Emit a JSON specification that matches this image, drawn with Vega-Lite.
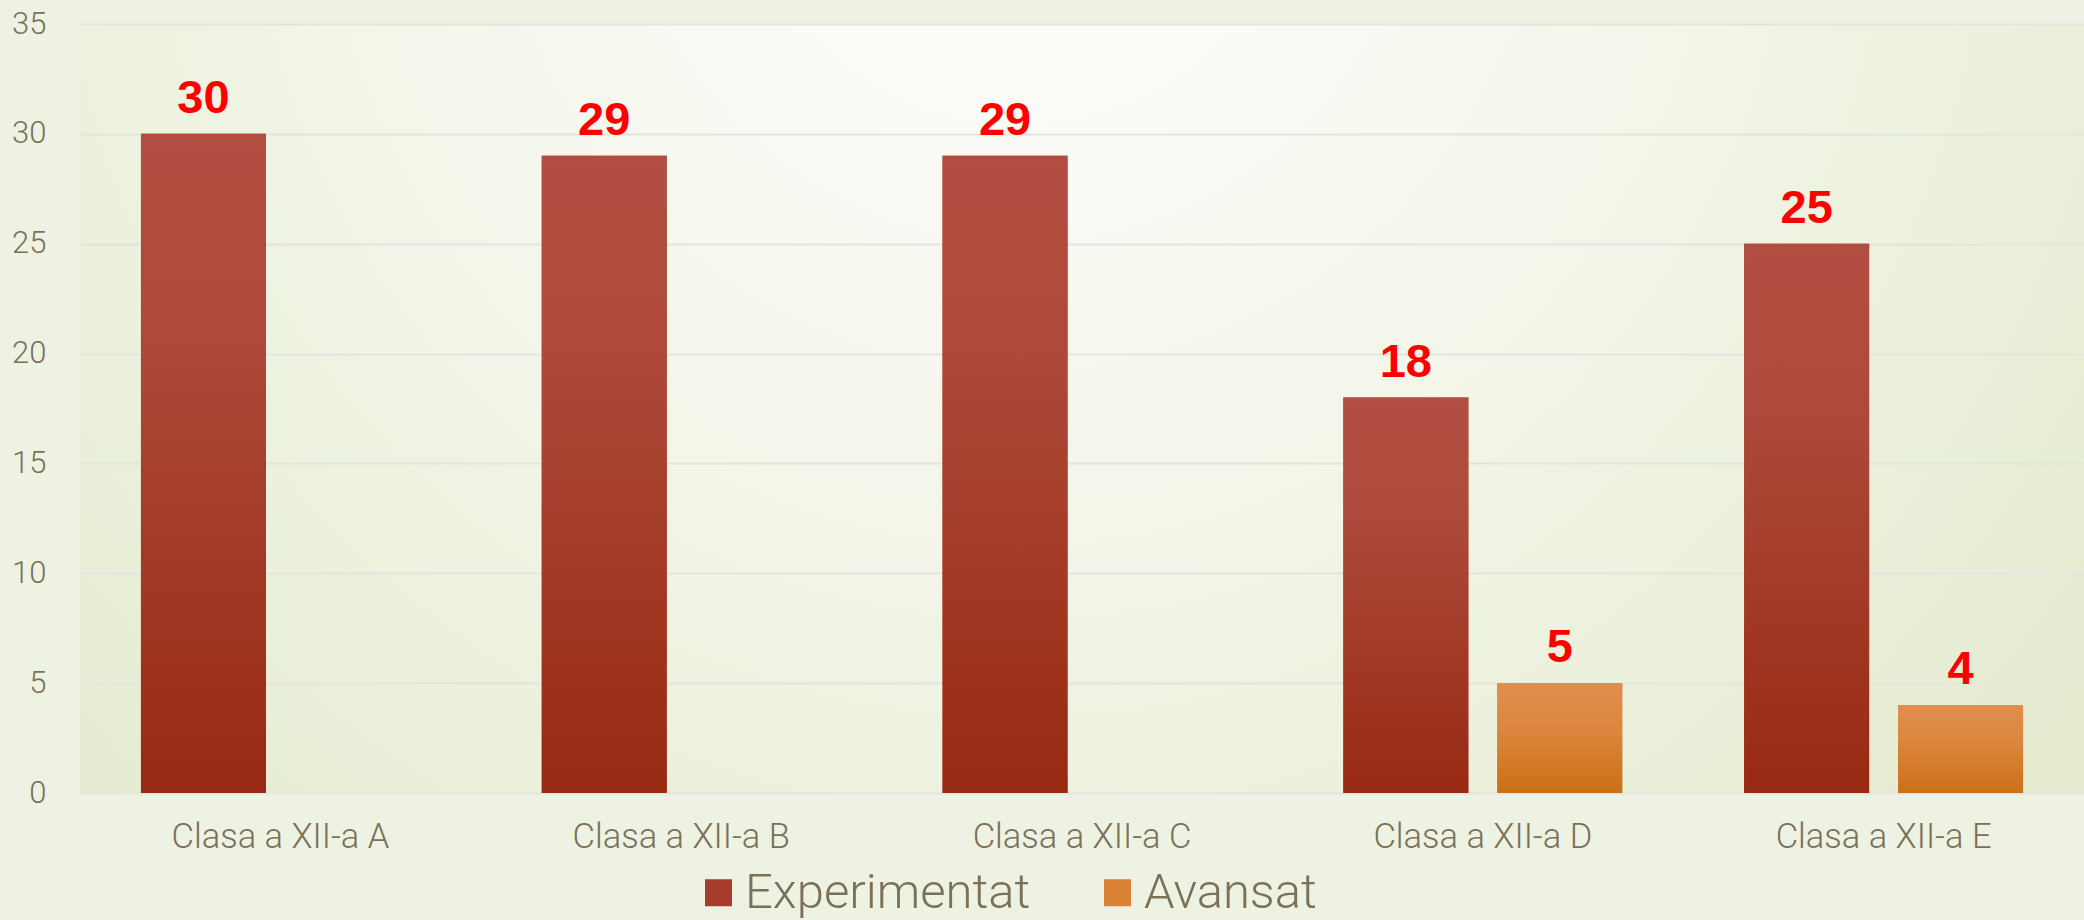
{
  "$schema": "https://vega.github.io/schema/vega-lite/v6.json",
  "width": 2004,
  "height": 769,
  "autosize": {"type": "none"},
  "padding": {"left": 80, "top": 24, "right": 0, "bottom": 127},
  "background": "#eef2e3",
  "data": {
    "values": [
      {"clasa": "Clasa a XII-a A", "serie": "Experimentat", "valoare": 30},
      {"clasa": "Clasa a XII-a B", "serie": "Experimentat", "valoare": 29},
      {"clasa": "Clasa a XII-a C", "serie": "Experimentat", "valoare": 29},
      {"clasa": "Clasa a XII-a D", "serie": "Experimentat", "valoare": 18},
      {"clasa": "Clasa a XII-a D", "serie": "Avansat", "valoare": 5},
      {"clasa": "Clasa a XII-a E", "serie": "Experimentat", "valoare": 25},
      {"clasa": "Clasa a XII-a E", "serie": "Avansat", "valoare": 4}
    ]
  },
  "encoding": {
    "x": {
      "field": "clasa",
      "type": "nominal",
      "sort": null,
      "scale": {"paddingInner": 0, "paddingOuter": 0},
      "axis": {
        "title": null,
        "domain": false,
        "ticks": false,
        "labelAngle": 0,
        "labelPadding": 27,
        "labelFont": "Roboto",
        "labelFontWeight": 300,
        "labelFontSize": 34.5,
        "labelColor": "#7a7157",
        "labelLimit": 400
      }
    },
    "xOffset": {
      "field": "serie",
      "type": "nominal",
      "scale": {"domain": ["Experimentat", "Avansat"], "paddingInner": 0.188, "paddingOuter": 0.396}
    },
    "y": {
      "field": "valoare",
      "type": "quantitative",
      "scale": {"domain": [0, 35], "nice": false},
      "axis": {
        "title": null,
        "values": [0, 5, 10, 15, 20, 25, 30, 35],
        "domain": false,
        "ticks": false,
        "grid": true,
        "gridColor": "#e6e4de",
        "gridWidth": 2,
        "labelPadding": 34,
        "labelFont": "Roboto",
        "labelFontWeight": 300,
        "labelFontSize": 31,
        "labelColor": "#7a7157"
      }
    }
  },
  "layer": [
    {
      "mark": {"type": "bar"},
      "encoding": {
        "color": {
          "field": "serie",
          "type": "nominal",
          "scale": {"domain": ["Experimentat", "Avansat"], "range": ["#a63c2c", "#da8236"]},
          "legend": {
            "title": null,
            "orient": "none",
            "legendX": 614,
            "legendY": 844,
            "direction": "horizontal",
            "padding": 0,
            "symbolType": "square",
            "symbolSize": 729,
            "symbolStrokeWidth": 0,
            "labelFont": "Roboto",
            "labelFontWeight": 300,
            "labelFontSize": 49,
            "labelColor": "#7a7157",
            "labelOffset": 2,
            "labelLimit": 600,
            "columnPadding": 62
          }
        }
      }
    },
    {
      "mark": {"type": "bar"},
      "encoding": {
        "fill": {
          "condition": {
            "test": "datum.serie === 'Avansat'",
            "value": {
              "gradient": "linear", "x1": 0, "y1": 0, "x2": 0, "y2": 1,
              "stops": [
                {"offset": 0, "color": "#e18e4d"},
                {"offset": 0.4, "color": "#dc873f"},
                {"offset": 1, "color": "#cb7016"}
              ]
            }
          },
          "value": {
            "gradient": "linear", "x1": 0, "y1": 0, "x2": 0, "y2": 1,
            "stops": [
              {"offset": 0, "color": "#b14e41"},
              {"offset": 0.3, "color": "#ad4a3b"},
              {"offset": 1, "color": "#982912"}
            ]
          }
        }
      }
    },
    {
      "mark": {
        "type": "text",
        "baseline": "alphabetic",
        "dy": -21,
        "font": "Liberation Sans",
        "fontWeight": "bold",
        "fontSize": 47,
        "color": "#ff0000"
      },
      "encoding": {
        "text": {"field": "valoare", "type": "quantitative"}
      }
    }
  ],
  "config": {
    "view": {
      "stroke": null,
      "fill": {
        "gradient": "radial",
        "x1": 0.47, "y1": 0.22, "r1": 0,
        "x2": 0.47, "y2": 0.22, "r2": 0.8,
        "stops": [
          {"offset": 0, "color": "#ffffff"},
          {"offset": 0.35, "color": "#f5f7ed"},
          {"offset": 1, "color": "#e0e8c7"}
        ]
      }
    }
  }
}
